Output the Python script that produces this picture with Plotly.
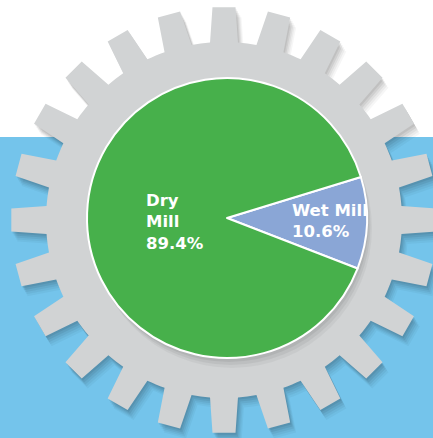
import numpy as np
import plotly.graph_objects as go

# ---- data ----
labels = ["Wet Mill", "Dry Mill"]
values = [10.6, 89.4]
colors = ["#8aa6d6", "#47b04b"]

W, H = 433, 438

def px(x):
    return x / W

def py(y):
    return 1 - y / H

# gear decoration
def gear_path(cx, cy, r_root, r_tip, n, hw_root, hw_tip, dx=0.0, dy=0.0):
    pts = []
    step = 360.0 / n
    for i in range(n):
        th = 90 + step * i
        seq = [(r_root, th - hw_root), (r_tip, th - hw_tip), (r_tip, th + hw_tip), (r_root, th + hw_root)]
        for r, a in seq:
            pts.append((r, a))
        a0 = th + hw_root
        a1 = th + step - hw_root
        for a in np.linspace(a0, a1, 5)[1:-1]:
            pts.append((r_root, a))
    d = ""
    for k, (r, a) in enumerate(pts):
        x = cx + dx + r * np.cos(np.radians(a))
        y = cy + dy - r * np.sin(np.radians(a))
        d += ("M" if k == 0 else "L") + f"{px(x):.5f},{py(y):.5f} "
    return d + "Z"

gcx, gcy = 224, 220
pcx, pcy, pr = 227, 218, 140

shapes = []
shapes.append(dict(type="rect", xref="paper", yref="paper", x0=0, x1=1, y0=0, y1=py(137),
                   fillcolor="#74c4eb", line=dict(width=0), layer="below"))
for off, op in [(10, 0.035), (8, 0.045), (6, 0.055), (4, 0.065), (2, 0.07)]:
    shapes.append(dict(type="path", xref="paper", yref="paper",
                       path=gear_path(gcx, gcy, 178, 213, 24, 4.5, 3.1, dx=off * 0.6, dy=off),
                       fillcolor="black", opacity=op, line=dict(width=0), layer="below"))
shapes.append(dict(type="path", xref="paper", yref="paper",
                   path=gear_path(gcx, gcy, 178, 213, 24, 4.5, 3.1),
                   fillcolor="#d1d3d4", line=dict(width=0), layer="below"))
for off, op in [(10, 0.04), (7, 0.05), (4, 0.06)]:
    shapes.append(dict(type="circle", xref="paper", yref="paper",
                       x0=px(pcx - pr + off * 0.5), x1=px(pcx + pr + off * 0.5),
                       y0=py(pcy + pr + off), y1=py(pcy - pr + off),
                       fillcolor="black", opacity=op, line=dict(width=0), layer="below"))

fig = go.Figure()
fig.add_trace(go.Pie(
    labels=labels, values=values, sort=False, direction="clockwise", rotation=73,
    marker=dict(colors=colors, line=dict(color="white", width=2)),
    textinfo="none", hoverinfo="label+percent", showlegend=False,
    domain=dict(x=[px(pcx - pr), px(pcx + pr)], y=[py(pcy + pr), py(pcy - pr)]),
))

font = dict(family="DejaVu Sans", size=16.5, color="white", weight="bold")
annotations = [
    dict(text=f"Dry<br>Mill<br>{values[1]}%", x=px(144), y=py(222), xref="paper", yref="paper",
         xanchor="left", yanchor="middle", align="left", showarrow=False, font=font),
    dict(text=f"Wet Mill<br>{values[0]}%", x=px(290), y=py(221), xref="paper", yref="paper",
         xanchor="left", yanchor="middle", align="left", showarrow=False, font=font),
]

fig.update_layout(
    width=W, height=H, margin=dict(l=0, r=0, t=0, b=0),
    paper_bgcolor="white", plot_bgcolor="white",
    shapes=shapes, annotations=annotations,
)
fig.write_html("out.html", config={"displayModeBar": False},
               post_script="document.body.style.margin='0';document.body.style.overflow='hidden';")
